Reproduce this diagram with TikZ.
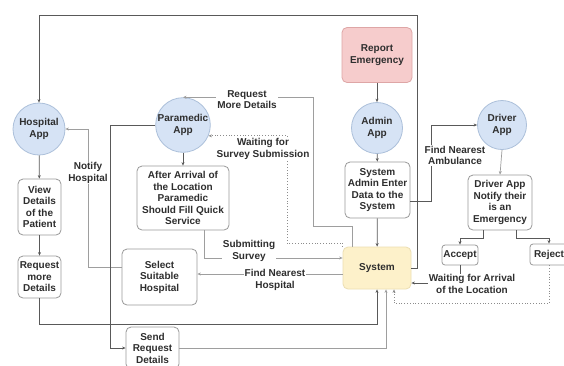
\documentclass[tikz,border=0pt]{standalone}
\usepackage{fontspec}
\setmainfont{Liberation Sans}
\usetikzlibrary{arrows.meta}
\definecolor{cblue}{RGB}{214,227,245}
\definecolor{cblueb}{RGB}{172,192,218}
\definecolor{cpink}{RGB}{246,204,204}
\definecolor{cpinkb}{RGB}{222,166,166}
\definecolor{cyel}{RGB}{253,241,202}
\definecolor{cyelb}{RGB}{236,222,178}
\begin{document}
\begin{tikzpicture}[x=1pt,y=-1pt,
  font=\fontsize{10}{11.5}\selectfont\bfseries, text=black!82,
  circ/.style={circle,draw=cblueb,fill=cblue,line width=0.8pt,inner sep=0pt,align=center,minimum size=51pt},
  rbox/.style={rectangle,rounded corners=5pt,draw=black!40,fill=white,line width=0.8pt,align=center,inner sep=1pt},
  lbl/.style={fill=white,inner sep=1pt,align=center},
  tip/.style={-{Stealth[length=3.5pt,width=3pt]}},
  dk/.style={draw=black!65,line width=0.7pt,tip},
  lt/.style={draw=black!38,line width=0.7pt,tip},
  dt/.style={draw=black!45,line width=0.8pt,dotted,tip}]
\fill[white] (0,0) rectangle (564,365);
\clip (0,0) rectangle (564,365);

% nodes
\node[rbox,fill=cpink,draw=cpinkb,minimum width=70pt,minimum height=55pt] (rep) at (377,55) {Report\\Emergency};
\node[circ] (admin) at (377,128) {Admin\\App};
\node[rbox,minimum width=65pt,minimum height=56pt] (sad) at (377.5,190) {System\\Admin Enter\\Data to the\\System};
\node[rbox,fill=cyel,draw=cyelb,minimum width=68pt,minimum height=42pt] (sys) at (377,268) {System};
\node[circ,minimum size=49pt] (drv) at (502,125) {Driver\\App};
\node[rbox,minimum width=64pt,minimum height=55pt] (dn) at (500,202.5) {Driver App\\Notify their\\is an\\Emergency};
\node[rbox,rounded corners=3pt,minimum width=36pt,minimum height=20pt] (acc) at (460,255) {Accept};
\node[rbox,rounded corners=3pt,minimum width=38pt,minimum height=21pt] (rej) at (549,254.5) {Reject};
\node[circ,minimum size=52pt] (hosp) at (39,129) {Hospital\\App};
\node[rbox,minimum width=43pt,minimum height=56pt] (view) at (39.5,207) {View\\Details\\of the\\Patient};
\node[rbox,minimum width=43pt,minimum height=42pt] (reqm) at (39.5,277) {Request\\more\\Details};
\node[circ,minimum size=52pt] (para) at (183,125) {Paramedic\\App};
\node[rbox,minimum width=92pt,minimum height=64pt] (aft) at (183,198) {After Arrival of\\the Location\\Paramedic\\Should Fill Quick\\Service};
\node[rbox,minimum width=75pt,minimum height=56pt] (sel) at (159.5,277) {Select\\Suitable\\Hospital};
\node[rbox,minimum width=53pt,minimum height=42pt] (snd) at (152.5,348) {Send\\Request\\Details};

% connectors
\draw[dk] (sys.east) -| (417,15) -| (hosp.north);
\draw[dk] (rep) -- (admin);
\draw[dk] (admin) -- (sad);
\draw[dk] (sad) -- (sys);
\draw[dk] ([yshift=-11pt]sad.east) -| (431,125) -- (drv.west);
\draw[lt] (drv.south) -- (dn.north);
\draw[dk] ([xshift=-17pt]dn.south) -- ++(0,8) -| (acc.north);
\draw[dk] ([xshift=16pt]dn.south) -- ++(0,8) -| (rej.north);
\draw[dk] (acc.south) |- ([yshift=-15pt]sys.east);
\draw[dt] (rej.south) -- ++(0,38) -| ([xshift=17pt]sys.south);
\draw[dk] (reqm.south) -- ++(0,26) -| (sys.south);
\draw[lt] (snd.east) -| ([xshift=9pt]sys.south);
\draw[dk] (para) -- (aft);
\draw[dk] (hosp) -- (view);
\draw[dk] (view) -- (reqm);
\draw[lt] ([xshift=21pt]aft.south) |- ([yshift=10pt]sys.west);
\draw[lt] ([yshift=-6pt]sys.west) -- ([yshift=3pt]sel.east);
\draw[lt] ([yshift=10pt]sel.west) -| (88,129) -- (hosp.east);
\draw[dk] (para.west) -| (110,348) -- (snd.west);
\draw[lt] ([xshift=-25pt]sys.north) |- (313,226) |- (para.north);
\draw[dt] (sys.north west) |- (287,243) |- (para.-23);

% labels
\node[lbl] (lamb) at (455,155.5) {Find Nearest\\Ambulance};
\node[lbl] (lwait) at (472,284) {Waiting for Arrival\\of the Location};
\node[lbl] (lsub) at (249,251) {Submitting\\Survey};
\node[lbl] (lfnh) at (275,280) {Find Nearest\\Hospital};
\node[lbl] (lnot) at (88,173) {Notify\\Hospital};
\node[lbl] (lreq) at (247,99.5) {Request\\More Details};
\node[lbl] (lsurv) at (263,149) {Waiting for\\Survey Submission};
\end{tikzpicture}
\end{document}
